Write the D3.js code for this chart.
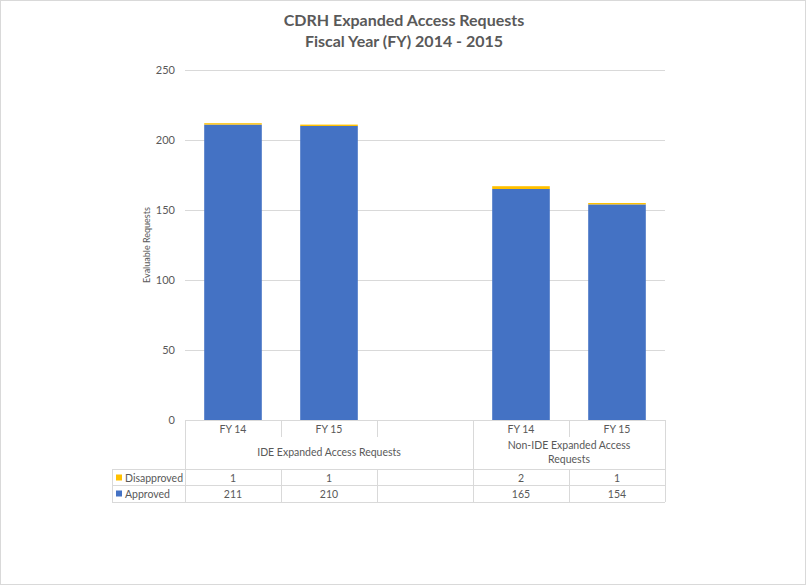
<!DOCTYPE html>
<html>
<head>
<meta charset="utf-8">
<script src="https://cdn.jsdelivr.net/npm/d3@7"></script>
<style>
  body { margin: 0; background: #fff; }
  svg { display: block; font-family: Lato, "Open Sans", sans-serif; }
</style>
</head>
<body>
<div class="content"></div>
<script>
// chart data
const slots = ['FY 14', 'FY 15', '', 'FY 14', 'FY 15'];
const groups = [
  { lines: ['IDE Expanded Access Requests'], from: 0, to: 2 },
  { lines: ['Non-IDE Expanded Access', 'Requests'], from: 3, to: 4 }
];
const approved = [211, 210, null, 165, 154];
const disapproved = [1, 1, null, 2, 1];
const yTicks = [0, 50, 100, 150, 200, 250];
const titleLines = ['CDRH Expanded Access Requests', 'Fiscal Year (FY) 2014 - 2015'];

function main() {
  const svgW = 806, svgH = 585;
  const textCol = '#595959', lineCol = '#D9D9D9';
  const blue = '#4472C4', gold = '#FFC000';
  const svg = d3.select('.content').append('svg')
                .attr('width', svgW)
                .attr('height', svgH);

  // outer frame
  svg.append('rect')
     .attr('x', 0.5).attr('y', 0.5)
     .attr('width', svgW - 1).attr('height', svgH - 1)
     .attr('fill', '#fff').attr('stroke', lineCol);

  // title
  svg.append('text')
     .attr('x', 404).attr('y', 26)
     .attr('text-anchor', 'middle')
     .attr('fill', textCol)
     .attr('font-size', 16).attr('font-weight', 'bold')
     .selectAll('tspan').data(titleLines).enter().append('tspan')
     .attr('x', 404).attr('dy', (d, i) => i ? 21 : 0)
     .text(d => d);

  // scales
  const left = 185, right = 665, top = 70, bottom = 420;
  const x = d3.scaleBand()
              .domain(d3.range(slots.length))
              .range([left, right])
              .paddingInner(0.4)
              .paddingOuter(0.2);
  const y = d3.scaleLinear().domain([0, 250]).range([bottom, top]);
  const step = x.step();
  const edge = i => left + step * i;

  // y axis with gridlines
  const yAxis = svg.append('g')
     .attr('transform', 'translate(' + left + ',0)')
     .call(d3.axisLeft(y).tickValues(yTicks).tickSize(-(right - left)).tickPadding(10));
  yAxis.select('.domain').remove();
  yAxis.selectAll('.tick line').attr('stroke', lineCol);
  yAxis.selectAll('.tick text')
       .attr('fill', textCol).attr('font-size', 11)
       .attr('font-family', 'Lato, "Open Sans", sans-serif');

  svg.append('text')
     .attr('transform', 'translate(150,' + ((top + bottom) / 2) + ') rotate(-90)')
     .attr('text-anchor', 'middle')
     .attr('fill', textCol).attr('font-size', 9)
     .text('Evaluable Requests');

  // stacked bars
  const rows = slots.map((s, i) => ({ i: i, a: approved[i], d: disapproved[i] }))
                    .filter(r => r.a !== null);
  svg.append('g').selectAll('rect').data(rows).enter().append('rect')
     .attr('x', r => x(r.i)).attr('width', x.bandwidth())
     .attr('y', r => y(r.a)).attr('height', r => y(0) - y(r.a))
     .attr('fill', blue);
  svg.append('g').selectAll('rect').data(rows).enter().append('rect')
     .attr('x', r => x(r.i)).attr('width', x.bandwidth())
     .attr('y', r => y(r.a + r.d)).attr('height', r => y(r.a) - y(r.a + r.d))
     .attr('fill', gold);

  // data table under the plot
  const tbl = svg.append('g');
  const catBottom = 437, rowTop = 469, rowMid = 485, rowBot = 502, legLeft = 112;
  const hline = (x1, x2, yy) => tbl.append('line')
     .attr('x1', x1).attr('x2', x2).attr('y1', yy + 0.5).attr('y2', yy + 0.5)
     .attr('stroke', lineCol);
  const vline = (xx, y1, y2) => tbl.append('line')
     .attr('x1', xx + 0.5).attr('x2', xx + 0.5).attr('y1', y1).attr('y2', y2)
     .attr('stroke', lineCol);

  hline(left, right, bottom);
  hline(legLeft, right, rowTop);
  hline(legLeft, right, rowMid);
  hline(legLeft, right, rowBot);
  vline(legLeft, rowTop, rowBot);
  vline(left, bottom, rowBot);
  vline(right, bottom, rowBot);
  d3.range(1, slots.length).forEach(i => {
    const isGroupEdge = groups.some(g => g.from === i);
    if (isGroupEdge) vline(edge(i), bottom, rowBot);
    else { vline(edge(i), bottom, catBottom); vline(edge(i), rowTop, rowBot); }
  });

  // category labels
  tbl.selectAll('.cat').data(slots).enter().append('text')
     .attr('x', (d, i) => x(i) + x.bandwidth() / 2).attr('y', 433)
     .attr('text-anchor', 'middle').attr('fill', textCol).attr('font-size', 10.5)
     .text(d => d);

  // group labels
  groups.forEach(g => {
    const cx = (edge(g.from) + edge(g.to + 1)) / 2;
    const y0 = g.lines.length > 1 ? 449 : 456;
    tbl.append('text')
       .attr('text-anchor', 'middle').attr('fill', textCol).attr('font-size', 10.5)
       .selectAll('tspan').data(g.lines).enter().append('tspan')
       .attr('x', cx).attr('y', (d, i) => y0 + i * 14)
       .text(d => d);
  });

  // series rows
  const series = [
    { name: 'Disapproved', values: disapproved, color: gold, top: rowTop },
    { name: 'Approved', values: approved, color: blue, top: rowMid }
  ];
  series.forEach(s => {
    const cy = s.top + 12.5;
    tbl.append('rect')
       .attr('x', 116).attr('y', cy - 7).attr('width', 6).attr('height', 6)
       .attr('fill', s.color);
    tbl.append('text')
       .attr('x', 125).attr('y', cy)
       .attr('fill', textCol).attr('font-size', 10.5)
       .text(s.name);
    tbl.selectAll(null).data(s.values).enter().append('text')
       .attr('x', (d, i) => x(i) + x.bandwidth() / 2).attr('y', cy)
       .attr('text-anchor', 'middle').attr('fill', textCol).attr('font-size', 10.5)
       .text(d => d === null ? '' : d);
  });
}
main();
</script>
</body>
</html>
